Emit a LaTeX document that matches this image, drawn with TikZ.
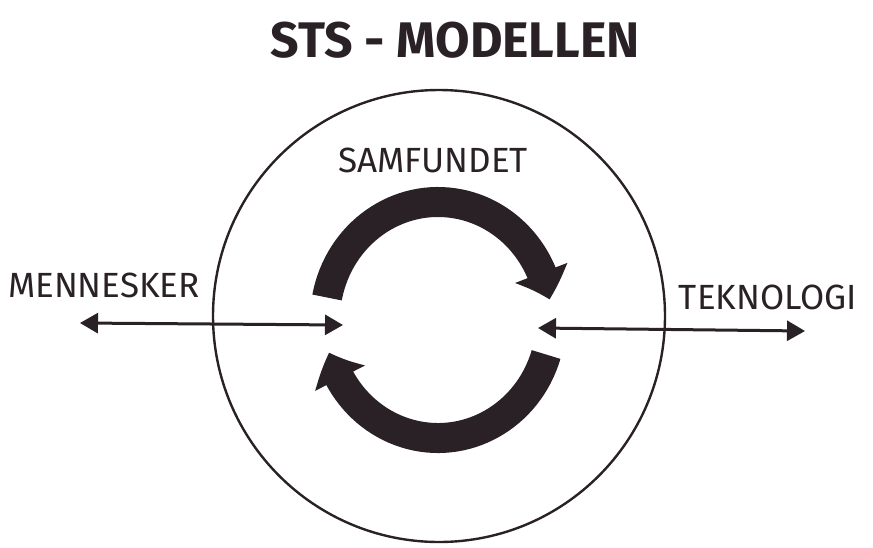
\documentclass[tikz,border=0pt]{standalone}
\usepackage{fontspec}
\setmainfont{Fira Sans}
\usetikzlibrary{arrows.meta,bending}
\definecolor{ink}{HTML}{2A2126}
\tikzstyle{arrow} = [line width=1.5pt, draw=ink,
  {Triangle[length=9pt,width=10pt]}-{Triangle[length=9pt,width=10pt]}]
\tikzstyle{swirl} = [line width=15pt, draw=ink,
  -{Triangle[length=14pt,width=27pt,bend]}]
\tikzstyle{ring} = [draw=ink, line width=1.2pt, circle, minimum size=226pt, inner sep=0pt]
\tikzstyle{word} = [font=\fontsize{17.5}{20}\selectfont, text=ink]

\begin{document}
\begin{tikzpicture}[x=0.5pt, y=0.5pt]
    \useasboundingbox (0,0) rectangle (873,-547);
    \node[font=\fontsize{25}{30}\selectfont\bfseries, text=ink] (title) at (455,-40) {STS - MODELLEN};
    \node[ring] (society) at (439,-316) {};
    \node[word] (samfundet) at (433,-160) {SAMFUNDET};
    \node[word] (mennesker) at (104,-285) {MENNESKER};
    \node[word] (teknologi) at (768,-297) {TEKNOLOGI};
    % the two turning arrows
    \coordinate (swirlc) at (438,-320);
    \draw[swirl] ([shift={(169:113 and 118)}]swirlc)
        arc[start angle=169, end angle=10, x radius=113, y radius=118];
    \draw[swirl] ([shift={(-17:113 and 118)}]swirlc)
        arc[start angle=-17, end angle=-164, x radius=113, y radius=118];
    % people and technology
    \coordinate (menL) at (80,-323);
    \coordinate (menR) at (343,-325);
    \coordinate (tekL) at (538,-328);
    \coordinate (tekR) at (805,-331);
    \draw[arrow] (menL) -- (menR);
    \draw[arrow] (tekL) -- (tekR);
\end{tikzpicture}
\end{document}
